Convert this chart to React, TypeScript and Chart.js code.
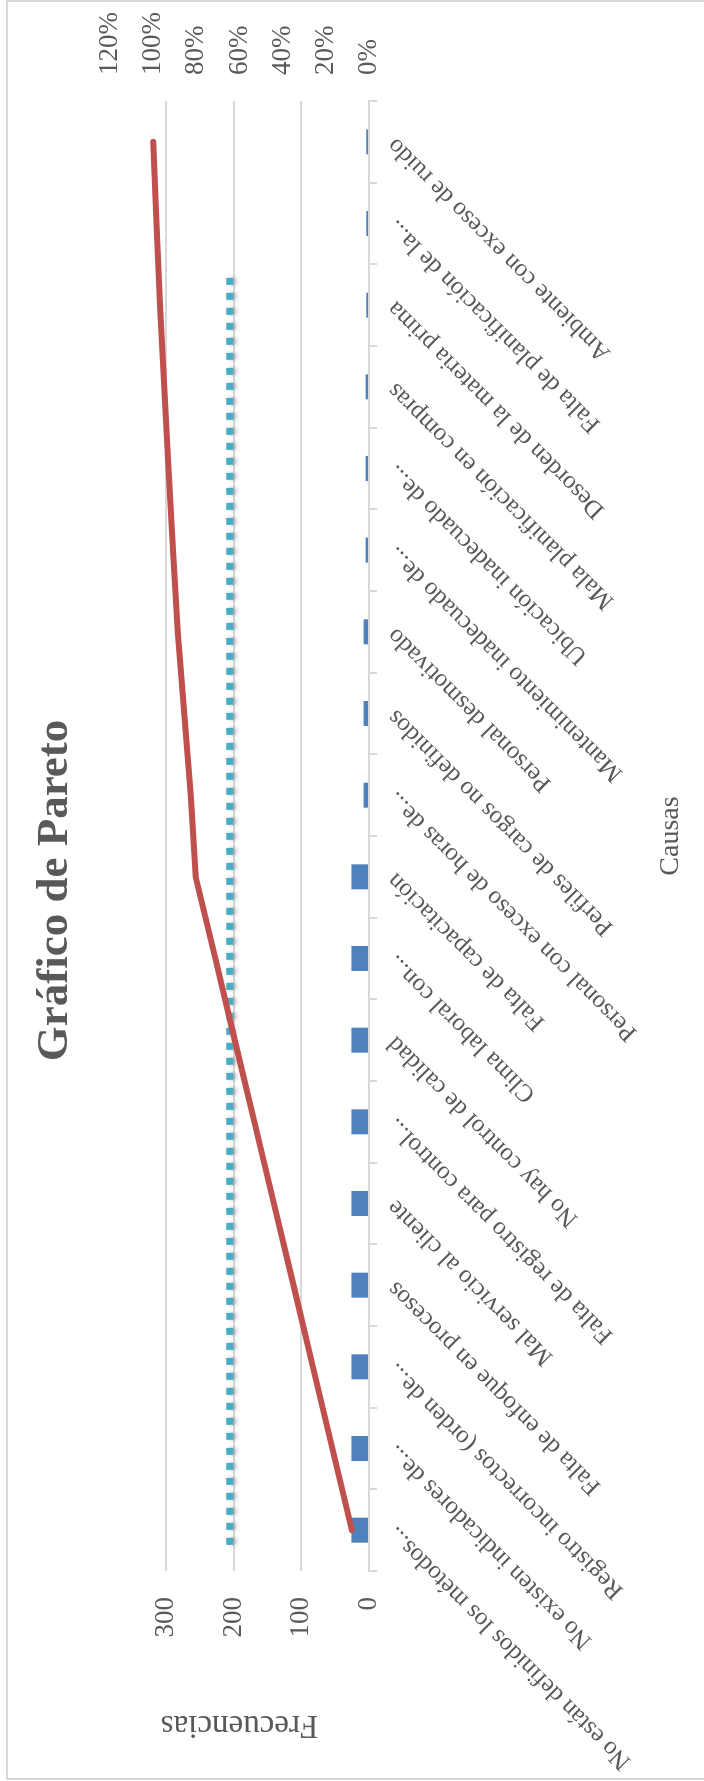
import React, { useEffect, useRef } from "react";
import { Chart, registerables } from "chart.js";

Chart.register(...registerables);

// ---- Data ----
const categories = [
  "No están definidos los métodos...",
  "No existen indicadores de...",
  "Registro incorrectos (orden de...",
  "Falta de enfoque en procesos",
  "Mal servicio al cliente",
  "Falta de registro para control...",
  "No hay control de calidad",
  "Clima laboral con...",
  "Falta de capacitación",
  "Personal con exceso de horas de...",
  "Perfiles de cargos no definidos",
  "Personal desmotivado",
  "Mantenimiento inadecuado de...",
  "Ubicación inadecuado de...",
  "Mala planificación en compras",
  "Desorden de la materia prima",
  "Falta de planificación de la...",
  "Ambiente con exceso de ruido",
];

const frequencies = [26, 26, 26, 26, 26, 26, 26, 26, 26, 8, 8, 8, 5, 5, 5, 4, 4, 4];

const cumulativePct = [
  7.9, 17.0, 26.0, 35.0, 44.1, 53.1, 62.2, 71.2, 80.3,
  82.6, 85.6, 88.6, 90.8, 92.9, 94.9, 96.8, 98.4, 100,
];

// dashed reference line (frequency value and start/end position along the category span)
const refLineValue = 206;
const refLineStart = 0.32;
const refLineEnd = 15.89;

const freqTicks = [0, 100, 200, 300];
const freqMax = 383;
const pctTicks = [0, 20, 40, 60, 80, 100, 120];
const pctMax = 120;

const W = 1781;
const H = 704;

export default function App() {
  const canvasRef = useRef<HTMLCanvasElement | null>(null);

  useEffect(() => {
    const canvas = canvasRef.current;
    if (!canvas) return;
    const family = "'Liberation Serif', 'Times New Roman', serif";
    const grey = "#595959";
    const gridGrey = "#d9d9d9";

    const shadowPlugin = {
      id: "tealShadow",
      beforeDatasetDraw(chart: any, args: any) {
        if (args.index === 2) {
          const c = chart.ctx;
          c.save();
          c.shadowColor = "rgba(0,0,0,0.28)";
          c.shadowBlur = 4;
          c.shadowOffsetX = 0;
          c.shadowOffsetY = 3;
        }
      },
      afterDatasetDraw(chart: any, args: any) {
        if (args.index === 2) chart.ctx.restore();
      },
    };

    const chart = new Chart(canvas, {
      type: "bar",
      data: {
        labels: categories,
        datasets: [
          {
            type: "bar",
            label: "Frecuencia",
            data: frequencies,
            backgroundColor: "#4F81BD",
            xAxisID: "x",
            yAxisID: "y",
            grouped: false,
            barPercentage: 0.306,
            categoryPercentage: 1,
            order: 3,
          } as any,
          {
            type: "line",
            label: "% acumulado",
            data: cumulativePct,
            borderColor: "#C0504D",
            backgroundColor: "#C0504D",
            borderWidth: 6,
            pointRadius: 0,
            borderCapStyle: "round",
            borderJoinStyle: "round",
            tension: 0,
            xAxisID: "x",
            yAxisID: "y1",
            order: 1,
          } as any,
          {
            type: "line",
            label: "Referencia",
            data: [
              { x: refLineStart, y: refLineValue },
              { x: refLineEnd, y: refLineValue },
            ],
            borderColor: "#4BACC6",
            backgroundColor: "#4BACC6",
            borderWidth: 7,
            borderDash: [7, 8],
            borderCapStyle: "butt",
            pointRadius: 0,
            xAxisID: "x2",
            yAxisID: "y",
            order: 2,
          } as any,
        ],
      },
      options: {
        responsive: false,
        maintainAspectRatio: false,
        animation: false,
        devicePixelRatio: 1,
        layout: { padding: 0 },
        plugins: {
          legend: { display: false },
          tooltip: { enabled: false },
          title: {
            display: true,
            text: "Gráfico de Pareto",
            color: grey,
            font: { family, size: 45, weight: "bold" },
            padding: { top: 28, bottom: 28 },
          },
        },
        scales: {
          x: {
            type: "category",
            position: "bottom",
            offset: true,
            grid: {
              offset: true,
              drawOnChartArea: false,
              drawTicks: true,
              tickLength: 8,
              color: gridGrey,
              lineWidth: 2,
            },
            border: { display: true, color: gridGrey, width: 2 },
            ticks: {
              autoSkip: false,
              minRotation: 45,
              maxRotation: 45,
              color: grey,
              font: { family, size: 25 },
              padding: 4,
            },
            title: {
              display: true,
              text: "Causas",
              color: grey,
              font: { family, size: 28 },
              padding: { top: 0, bottom: 17 },
            },
            afterFit: (s: any) => {
              s.height = H - 369;
              s.paddingLeft = 0;
              s.paddingRight = 0;
            },
          },
          x2: {
            type: "linear",
            display: false,
            min: 0,
            max: categories.length,
            offset: false,
          },
          y: {
            type: "linear",
            position: "left",
            min: 0,
            max: freqMax,
            afterBuildTicks: (s: any) => {
              s.ticks = freqTicks.map((v) => ({ value: v }));
            },
            grid: { color: gridGrey, lineWidth: 2, drawTicks: false },
            border: { display: false },
            ticks: { color: grey, font: { family, size: 27 }, padding: 26 },
            title: {
              display: true,
              text: "Frecuencias",
              color: grey,
              font: { family, size: 33 },
              padding: { top: 37, bottom: 0 },
            },
            afterFit: (s: any) => {
              s.width = 210;
            },
          },
          y1: {
            type: "linear",
            position: "right",
            min: 0,
            max: pctMax,
            afterBuildTicks: (s: any) => {
              s.ticks = pctTicks.map((v) => ({ value: v }));
            },
            grid: { drawOnChartArea: false, drawTicks: false },
            border: { display: false },
            ticks: {
              color: grey,
              font: { family, size: 27 },
              padding: 26,
              callback: (v: any) => v + "%",
            },
            afterFit: (s: any) => {
              s.width = W - 1680;
            },
          },
        },
      } as any,
      plugins: [shadowPlugin],
    });

    return () => chart.destroy();
  }, []);

  return (
    <div
      style={{
        position: "fixed",
        left: 0,
        top: 0,
        width: H,
        height: W,
        overflow: "hidden",
        background: "#ffffff",
      }}
    >
      <div
        style={{
          position: "absolute",
          left: 0,
          top: 0,
          width: W,
          height: H,
          transformOrigin: "0 0",
          transform: `translate(0px, ${W}px) rotate(-90deg)`,
          background: "#ffffff",
        }}
      >
        <div
          style={{
            position: "absolute",
            left: 1,
            top: 6,
            width: W - 1,
            height: H + 10,
            border: "2px solid #d9d9d9",
            boxSizing: "border-box",
          }}
        />
        <canvas
          ref={canvasRef}
          width={W}
          height={H}
          style={{ position: "absolute", left: 0, top: 0, width: W, height: H }}
        />
      </div>
    </div>
  );
}
